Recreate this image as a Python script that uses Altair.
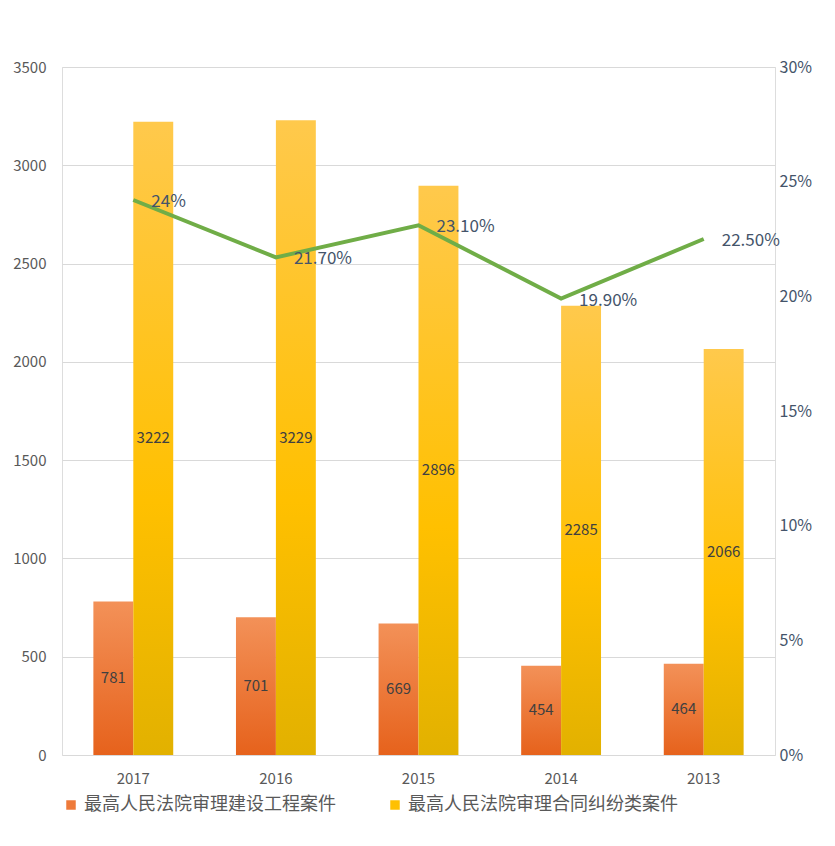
import altair as alt
import pandas as pd

years = ["2017", "2016", "2015", "2014", "2013"]
construction = [781, 701, 669, 454, 464]
contract = [3222, 3229, 2896, 2285, 2066]
ratio = [0.242, 0.217, 0.231, 0.199, 0.225]
ratio_labels = ["24%", "21.70%", "23.10%", "19.90%", "22.50%"]
s1 = "最高人民法院审理建设工程案件"
s2 = "最高人民法院审理合同纠纷类案件"

rows = []
for y, a, b in zip(years, construction, contract):
    rows.append({"year": y, "series": s1, "value": a, "half": a / 2})
    rows.append({"year": y, "series": s2, "value": b, "half": b / 2})
bars = pd.DataFrame(rows)
line_df = pd.DataFrame({"year": years, "ratio": ratio, "label": ratio_labels})

FONT = "Noto Sans CJK SC"
x = alt.X("year:N", sort=years, title=None,
          scale=alt.Scale(paddingInner=0.44, paddingOuter=0.22),
          axis=alt.Axis(labelAngle=0, labelFontSize=15, labelColor="#595959",
                        domain=False, ticks=False, labelPadding=16))
xoff = alt.XOffset("series:N", scale=alt.Scale(domain=[s1, s2], paddingInner=0))
yl = alt.Y("value:Q", title=None, scale=alt.Scale(domain=[0, 3500]),
           axis=alt.Axis(values=list(range(0, 3501, 500)), format="d", labelFontSize=15,
                         labelColor="#595959", domain=False, ticks=False,
                         gridColor="#d9d9d9", labelPadding=16))

base = alt.Chart(bars).encode(x=x, xOffset=xoff)

g1 = alt.Gradient(gradient="linear", x1=0, y1=0, x2=0, y2=1,
                  stops=[alt.GradientStop(color="#f39158", offset=0),
                         alt.GradientStop(color="#e6621c", offset=1)])
g2 = alt.Gradient(gradient="linear", x1=0, y1=0, x2=0, y2=1,
                  stops=[alt.GradientStop(color="#ffc94c", offset=0),
                         alt.GradientStop(color="#ffc000", offset=0.6),
                         alt.GradientStop(color="#e2b100", offset=1)])

bar1 = base.transform_filter(alt.datum.series == s1).mark_bar(fill=g1).encode(y=yl)
bar2 = base.transform_filter(alt.datum.series == s2).mark_bar(fill=g2).encode(y=yl)

legend_layer = base.transform_filter("datum.value < 0").mark_bar().encode(
    y="value:Q",
    color=alt.Color("series:N", scale=alt.Scale(domain=[s1, s2], range=["#ee7a3a", "#ffc000"]),
                    legend=alt.Legend(orient="bottom", title=None, labelFontSize=18,
                                      labelColor="#595959", symbolType="square",
                                      symbolSize=90, labelFont=FONT, columnPadding=50,
                                      offset=10, labelLimit=400)),
)

bar_text = base.mark_text(fontSize=15, color="#404040").encode(
    y=alt.Y("half:Q"), text="value:Q")

yr = alt.Y("ratio:Q", title=None, scale=alt.Scale(domain=[0, 0.30]),
           axis=alt.Axis(orient="right", format=".0%", values=[0, .05, .10, .15, .20, .25, .30],
                         labelFontSize=16, labelColor="#44546a", domain=False,
                         ticks=False, grid=False, labelPadding=4))
lbase = alt.Chart(line_df).encode(x=alt.X("year:N", sort=years), y=yr)
line = lbase.mark_line(color="#70ad47", strokeWidth=4)
ltext = lbase.mark_text(align="left", dx=18, dy=2, fontSize=17, color="#44546a").encode(text="label:N")

left = alt.layer(legend_layer, bar1, bar2, bar_text)
right = alt.layer(line, ltext)

chart = alt.layer(left, right).resolve_scale(y="independent").properties(
    width=713, height=688,
    autosize=alt.AutoSizeParams(type="none"),
    padding={"left": 54, "top": 59, "right": 47, "bottom": 75},
).configure_view(strokeWidth=0).configure(font=FONT)

chart.save("out.html", embed_options={"renderer": "svg", "actions": False})
